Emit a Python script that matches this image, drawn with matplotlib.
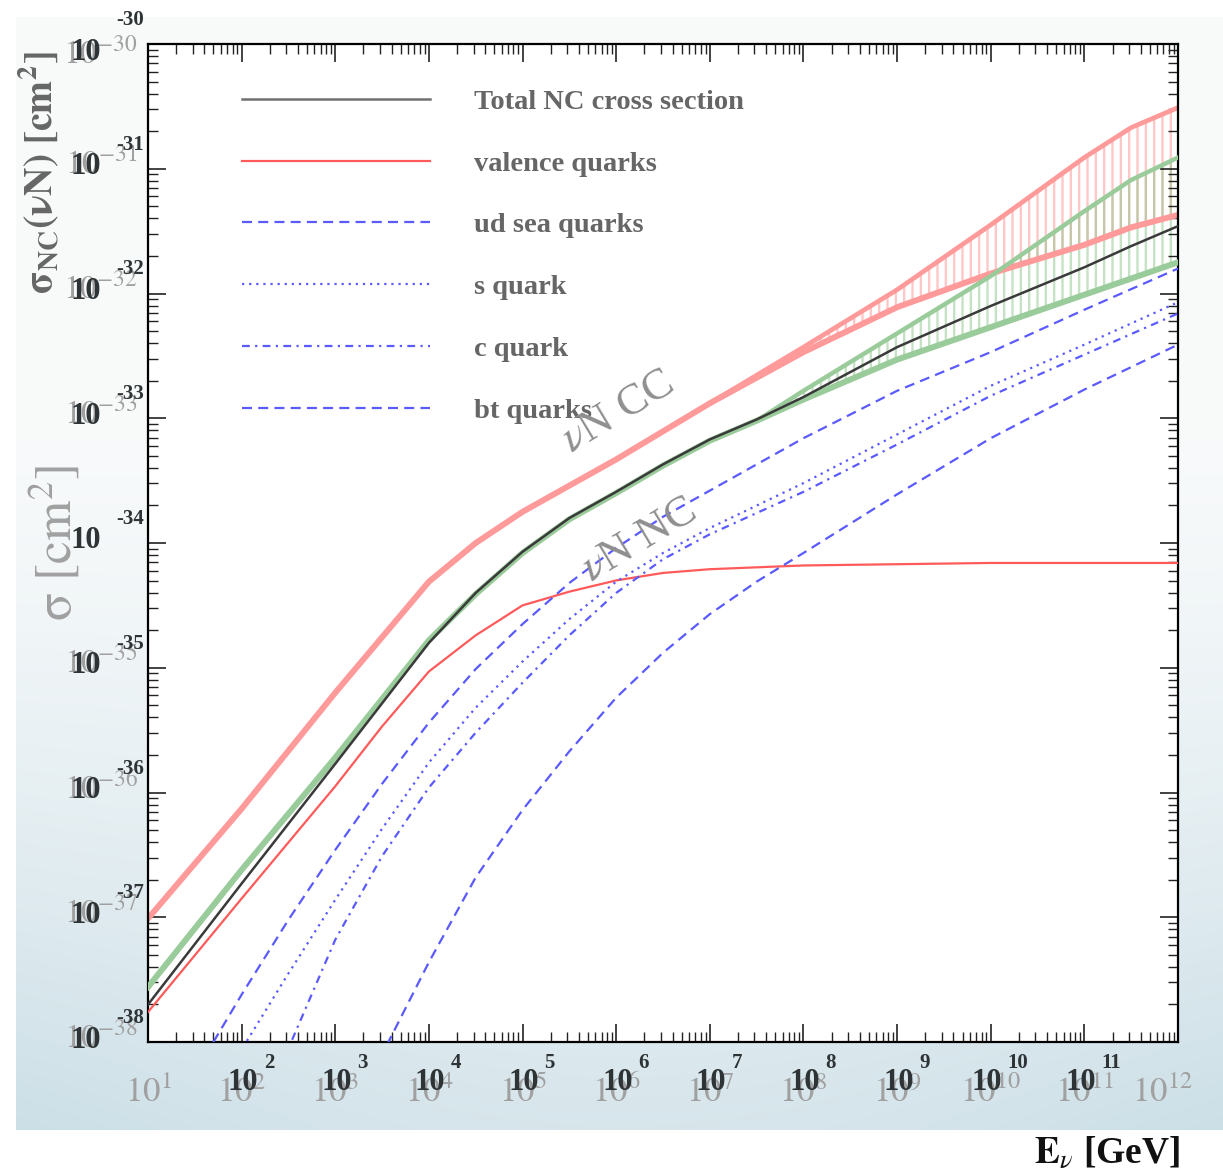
import numpy as np
import matplotlib.pyplot as plt
from matplotlib import transforms
from matplotlib.ticker import LogLocator, NullFormatter

# log10(E / GeV) grids and log10(sigma / cm^2) read per curve
lgE_cc = [1, 2, 3, 4, 4.5, 5, 6, 7, 8, 9, 10, 11, 11.5, 12]
cc_central = [-37.01, -36.13, -35.20, -34.31, -34.00, -33.75, -33.33, -32.88,
              -32.47, -32.11, -31.84, -31.61, -31.47, -31.37]
lgE_cc_hi = [7, 8, 9, 10, 11, 11.5, 12]
cc_upper = [-32.88, -32.43, -31.97, -31.45, -30.91, -30.67, -30.51]

lgE_nc = [1, 2, 3, 4, 4.5, 5, 5.5, 6, 6.5, 7, 7.5, 8, 9, 10, 11, 11.5, 12]
nc_total = [-37.70, -36.73, -35.77, -34.80, -34.40, -34.07, -33.80, -33.59,
            -33.37, -33.17, -33.01, -32.83, -32.43, -32.10, -31.79, -31.62, -31.46]
nc_lower = [-37.56, -36.62, -35.72, -34.78, -34.41, -34.08, -33.81, -33.60,
            -33.38, -33.18, -33.02, -32.85, -32.53, -32.27, -32.01, -31.88, -31.75]
lgE_nc_hi = [7.5, 8, 9, 10, 11, 11.5, 12]
nc_upper = [-33.02, -32.78, -32.32, -31.86, -31.34, -31.09, -30.91]

lgE_val = [1, 2, 3, 3.5, 4, 4.5, 5, 5.5, 6, 6.5, 7, 8, 9, 10, 11, 12]
valence = [-37.76, -36.85, -35.95, -35.47, -35.03, -34.74, -34.50, -34.39,
           -34.30, -34.24, -34.21, -34.18, -34.17, -34.16, -34.16, -34.16]

lgE_q = [1, 1.5, 2, 2.5, 3, 3.5, 4, 4.5, 5, 5.5, 6, 6.5, 7, 7.5, 8, 9, 10, 11, 12]
ud_sea = [-38.90, -38.25, -37.62, -37.02, -36.46, -35.93, -35.44, -35.01,
          -34.65, -34.32, -34.04, -33.79, -33.58, -33.37, -33.16, -32.78,
          -32.47, -32.13, -31.80]
s_quark = [-39.40, -38.72, -38.06, -37.45, -36.86, -36.29, -35.76, -35.32,
           -34.95, -34.61, -34.31, -34.08, -33.88, -33.70, -33.52, -33.13,
           -32.74, -32.41, -32.07]
c_quark = [-41.90, -40.50, -39.20, -38.05, -37.18, -36.51, -35.96, -35.52,
           -35.12, -34.74, -34.40, -34.13, -33.93, -33.76, -33.59, -33.21,
           -32.82, -32.49, -32.16]
bt_quarks = [-42.50, -41.50, -40.60, -39.70, -38.90, -38.10, -37.36, -36.68,
             -36.14, -35.67, -35.24, -34.88, -34.57, -34.31, -34.08, -33.61,
             -33.16, -32.77, -32.41]

legend_labels = ["Total NC cross section", "valence quarks", "ud sea quarks",
                 "s quark", "c quark", "bt quarks"]
x_decades = list(range(1, 13))
y_decades = list(range(-38, -29))


def p10(a):
    return 10.0 ** np.asarray(a, dtype=float)


plt.rcParams['font.family'] = ['Liberation Serif', 'DejaVu Serif']
plt.rcParams['hatch.linewidth'] = 1.7

W, H = 1223, 1176
fig = plt.figure(figsize=(W / 100, H / 100), dpi=100)

# soft blue-grey backdrop panel
bg = fig.add_axes([16 / W, 1 - 1130 / H, (W - 16) / W, (1130 - 17) / H])
ny, nx = 300, 300
t = np.linspace(0, 1, ny)[:, None] * np.ones((1, nx))
u = np.linspace(0, 1, nx)[None, :] * np.ones((ny, 1))
f = np.clip((t - 0.35) / 0.65, 0, 1) ** 1.4
f = np.clip(f * (1.0 - 0.25 * np.sin(np.pi * u) * t), 0, 1)
top = np.array([0.975, 0.982, 0.984])
bot = np.array([0.80, 0.875, 0.905])
img = top[None, None, :] + (bot - top)[None, None, :] * f[:, :, None]
bg.imshow(img, aspect='auto', extent=(0, 1, 0, 1), interpolation='bilinear')
bg.set_axis_off()

ax = fig.add_axes([148 / W, 1 - 1042 / H, 1030 / W, 998 / H])
ax.set_facecolor('white')
ax.set_xscale('log')
ax.set_yscale('log')
ax.set_xlim(1e1, 1e12)
ax.set_ylim(1e-38, 1e-30)

pink = '#ff9a9a'
green = '#9acb9a'
blue = '#5a5aff'

# CC band
n_hi = len(lgE_cc_hi)
ax.fill_between(p10(lgE_cc_hi), p10(cc_central[-n_hi:]), p10(cc_upper),
                facecolor='none', edgecolor=(1.0, 0.6, 0.6, 0.55),
                hatch='||', linewidth=0, zorder=1)
ax.plot(p10(lgE_cc), p10(cc_central), color=pink, lw=4.3, zorder=2)
ax.plot(p10(lgE_cc_hi), p10(cc_upper), color=pink, lw=3.4, zorder=2)

# NC band
n_nc = len(lgE_nc_hi)
ax.fill_between(p10(lgE_nc_hi), p10(nc_lower[-n_nc:]), p10(nc_upper),
                facecolor='none', edgecolor=(0.55, 0.78, 0.55, 0.5),
                hatch='||', linewidth=0, zorder=1)
ax.plot(p10(lgE_nc), p10(nc_lower), color=green, lw=4.3, zorder=3)
ax.plot(p10(lgE_nc_hi), p10(nc_upper), color=green, lw=3.2, zorder=3)

# NC contributions
l_tot, = ax.plot(p10(lgE_nc), p10(nc_total), color='#3a3a3a', lw=1.8, zorder=5)
l_val, = ax.plot(p10(lgE_val), p10(valence), color='#ff5a5a', lw=1.6, zorder=4)
l_ud, = ax.plot(p10(lgE_q), p10(ud_sea), color=blue, lw=1.6,
                ls=(0, (4.5, 2.8)), zorder=4)
l_s, = ax.plot(p10(lgE_q), p10(s_quark), color=blue, lw=1.6,
               ls=(0, (1, 2.2)), zorder=4)
l_c, = ax.plot(p10(lgE_q), p10(c_quark), color=blue, lw=1.6,
               ls=(0, (3.5, 2.4, 1, 2.4)), zorder=4)
l_bt, = ax.plot(p10(lgE_q), p10(bt_quarks), color=blue, lw=1.6,
                ls=(0, (4.5, 2.8)), zorder=4)

leg = ax.legend([l_tot, l_val, l_ud, l_s, l_c, l_bt], legend_labels,
                loc='upper left', bbox_to_anchor=(0.0913, 0.955),
                frameon=False, handlelength=6.6, handletextpad=1.55,
                labelspacing=1.26, borderaxespad=0, borderpad=0,
                prop={'family': 'Liberation Serif', 'weight': 'bold', 'size': 20.5},
                labelcolor='#666666')
leg.legend_handles[0].set_color('#707070')

# band labels
ax.text(p10(6.02)[()], p10(-32.95)[()], r'$\nu$N CC', fontsize=32,
        color='#8f8f8f', rotation=31, ha='center', va='center',
        math_fontfamily='stix', zorder=6)
ax.text(p10(6.24)[()], p10(-33.98)[()], r'$\nu$N NC', fontsize=32,
        color='#8f8f8f', rotation=31, ha='center', va='center',
        math_fontfamily='stix', zorder=6)

# axes frame and ticks
for sp in ax.spines.values():
    sp.set_linewidth(1.6)
ax.xaxis.set_major_locator(LogLocator(base=10, numticks=30))
ax.xaxis.set_minor_locator(LogLocator(base=10, subs=np.arange(2, 10), numticks=300))
ax.yaxis.set_major_locator(LogLocator(base=10, numticks=30))
ax.yaxis.set_minor_locator(LogLocator(base=10, subs=np.arange(2, 10), numticks=300))
ax.xaxis.set_minor_formatter(NullFormatter())
ax.yaxis.set_minor_formatter(NullFormatter())
ax.tick_params(which='both', direction='in', top=True, right=True,
               labelbottom=False, labelleft=False, color='#222222')
ax.tick_params(which='major', length=13, width=1.2)
ax.tick_params(which='minor', length=7, width=1.0)

xt = ax.get_xaxis_transform()
yt = ax.get_yaxis_transform()


def off(base, dx, dy):
    return transforms.offset_copy(base, fig=fig, x=dx, y=dy, units='dots')


# faint large tick labels
grey_lab = '#a0a0a0'
for k in x_decades:
    dx = -16 if k == 12 else 0
    ax.text(10.0 ** k, 0, r'$10^{%d}$' % k, transform=off(xt, dx, -51),
            ha='center', va='center', fontsize=25, color=grey_lab,
            math_fontfamily='stix', clip_on=False)
for k in y_decades:
    if k == -34:
        continue
    dy = -10 if k == -30 else 4
    ax.text(0, 10.0 ** k, r'$10^{%d}$' % k, transform=off(yt, -10, dy),
            ha='right', va='center', fontsize=24, color=grey_lab,
            math_fontfamily='stix', clip_on=False)

# bold tick labels
dark_lab = '#2e3436'
for k in x_decades[1:-1]:
    n = len(str(k))
    left = 9 - (31 + 5 + 10 * n) / 2
    ax.text(10.0 ** k, 0, '10', transform=off(xt, left, -41), ha='left',
            va='center', fontsize=22, fontweight='bold', color=dark_lab,
            clip_on=False)
    ax.text(10.0 ** k, 0, str(k), transform=off(xt, left + 36, -21), ha='left',
            va='center', fontsize=15, fontweight='bold', color=dark_lab,
            clip_on=False)
for k in y_decades:
    dy10 = -9 if k == -30 else 2
    ax.text(0, 10.0 ** k, '10', transform=off(yt, -47, dy10), ha='right',
            va='center', fontsize=22, fontweight='bold', color=dark_lab,
            clip_on=False)
    ax.text(0, 10.0 ** k, '-%d' % abs(k), transform=off(yt, -4, 24), ha='right',
            va='center', fontsize=15, fontweight='bold', color=dark_lab,
            clip_on=False)

# axis titles
fig.text(40 / W, 1 - 173 / H, r'$\mathbf{\sigma_{NC}(\nu N)\ [cm^{2}]}$',
         rotation=90, ha='center', va='center', fontsize=28.5, color='#666666',
         math_fontfamily='stix')
fig.text(55 / W, 1 - 543 / H, r'$\mathrm{\sigma}\ [\mathrm{cm}^{2}]$',
         rotation=90, ha='center', va='center', fontsize=37, color='#a0a0a0',
         math_fontfamily='stix')
fig.text(1180 / W, 1 - 1153 / H, r'$\mathbf{E}_{\nu}$ [GeV]', ha='right',
         va='center', fontsize=27, fontweight='bold', color='#111111',
         math_fontfamily='stix')

fig.savefig('out.png', dpi=100, facecolor='white')
